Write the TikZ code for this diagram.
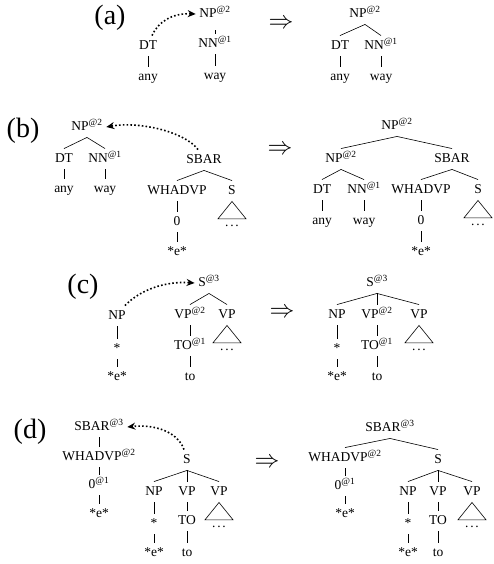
\documentclass[tikz,border=0pt]{standalone}
\usepackage{fontspec}
\setmainfont{Liberation Serif}
\usepackage{tikz}
\usetikzlibrary{arrows.meta}
\newcommand\treefont{\fontsize{13.5}{15}\selectfont}
\newcommand\panelfont{\fontsize{28}{30}\selectfont}
\newcommand\impfont{\fontsize{25}{28}\selectfont}
\newcommand\ann[1]{\textsuperscript{@#1}}
\newcommand\trdots{.\kern1.8pt.\kern1.8pt.}

\begin{document}
\begin{tikzpicture}[x=1pt,y=-1pt,
  t/.style={font=\treefont,inner sep=3.5pt,text height=10.5pt,text depth=3pt},
  dts/.style={font=\treefont,inner sep=1pt,text height=6pt,text depth=0pt},
  lbl/.style={font=\panelfont,inner sep=0pt},
  imp/.style={font=\impfont,inner sep=0pt},
  edge/.style={line width=0.6pt},
  mv/.style={line width=1.6pt,dash pattern=on 1.6pt off 2.2pt,-{Stealth[length=8pt,width=7pt]}}]
\useasboundingbox (0,0) rectangle (493,564);

% (a)
\node[lbl] (la) at (110,18) {(a)};
\node[t] (a1np) at (215,14) {NP\ann2};
\node[t] (a1nn) at (215,44) {NN\ann1};
\node[t] (a1way) at (215,76) {way};
\node[t] (a1dt) at (148,46) {DT};
\node[t] (a1any) at (148,77) {any};
\draw[edge] ([yshift=-6pt]a1np.south) -- (a1nn.north);
\draw[mv] ([xshift=4pt]a1dt.north) .. controls (158,22) and (172,13) .. (a1np.west);
\node[imp] (ia) at (281,24) {$\Rightarrow$};
\node[t] (a2np) at (365,14) {NP\ann2};
\node[t] (a2dt) at (340,46) {DT};
\node[t] (a2nn) at (381,46) {NN\ann1};
\node[t] (a2any) at (340,77) {any};
\node[t] (a2way) at (381,77) {way};

% (b)
\node[lbl] (lb) at (23,131) {(b)};
\node[t] (b1np) at (87,127) {NP\ann2};
\node[t] (b1dt) at (64,159) {DT};
\node[t] (b1nn) at (105,159) {NN\ann1};
\node[t] (b1any) at (64,189) {any};
\node[t] (b1way) at (105,189) {way};
\node[t] (b1sbar) at (204,160) {SBAR};
\node[t] (b1wh) at (177,191) {WHADVP};
\node[t] (b1s) at (232,191) {S};
\node[t] (b1zero) at (177,222) {0};
\node[t] (b1e) at (177,252) {*e*};
\node[dts] (b1sd) at (232,223) {\trdots};
\draw[mv] ([xshift=-6pt]b1sbar.north) .. controls (185,132) and (140,121) .. (b1np.east);
\node[imp] (ib) at (280,150) {$\Rightarrow$};
\node[t] (b2np) at (397,126) {NP\ann2};
\node[t] (b2npl) at (341,159) {NP\ann2};
\node[t] (b2sbar) at (452,159) {SBAR};
\node[t] (b2dt) at (322,190) {DT};
\node[t] (b2nn) at (364,190) {NN\ann1};
\node[t] (b2any) at (322,221) {any};
\node[t] (b2way) at (364,221) {way};
\node[t] (b2wh) at (421,190) {WHADVP};
\node[t] (b2s) at (478,190) {S};
\node[t] (b2zero) at (421,221) {0};
\node[t] (b2e) at (421,252) {*e*};
\node[dts] (b2sd) at (478,222) {\trdots};

% (c)
\node[lbl] (lc) at (83,287) {(c)};
\node[t] (c1np) at (117,316) {NP};
\node[t] (c1star) at (117,349) {*};
\node[t] (c1e) at (117,377) {*e*};
\node[t] (c1s) at (209,283) {S\ann3};
\node[t] (c1vp) at (190,315) {VP\ann2};
\node[t] (c1vpr) at (227,315) {VP};
\node[t] (c1to) at (190,346) {TO\ann1};
\node[t] (c1tto) at (190,377) {to};
\node[dts] (c1vprd) at (227,347) {\trdots};
\draw[mv] ([xshift=8pt]c1np.north) .. controls (140,290) and (165,281) .. (c1s.west);
\node[imp] (ic) at (282,313) {$\Rightarrow$};
\node[t] (c2s) at (377,283) {S\ann3};
\node[t] (c2np) at (337,315) {NP};
\node[t] (c2vp) at (377,315) {VP\ann2};
\node[t] (c2vpr) at (419,315) {VP};
\node[t] (c2star) at (337,349) {*};
\node[t] (c2to) at (377,346) {TO\ann1};
\node[t] (c2e) at (337,377) {*e*};
\node[t] (c2tto) at (377,377) {to};
\node[dts] (c2vprd) at (419,347) {\trdots};

% (d)
\node[lbl] (ld) at (30,432) {(d)};
\node[t] (d1sbar) at (99,427) {SBAR\ann3};
\node[t] (d1wh) at (99,457) {WHADVP\ann2};
\node[t] (d1zero) at (99,485) {0\ann1};
\node[t] (d1e) at (99,514) {*e*};
\node[t] (d1s) at (187,460) {S};
\node[t] (d1np) at (154,492) {NP};
\node[t] (d1vp) at (187,492) {VP};
\node[t] (d1vpr) at (219,492) {VP};
\node[t] (d1star) at (154,524) {*};
\node[t] (d1to) at (187,521) {TO};
\node[t] (d1ee) at (154,553) {*e*};
\node[t] (d1tto) at (187,553) {to};
\node[dts] (d1vprd) at (219,524) {\trdots};
\draw[mv] ([xshift=-3pt]d1s.north) .. controls (178,432) and (155,424) .. (d1sbar.east);
\node[imp] (id) at (267,463) {$\Rightarrow$};
\node[t] (d2sbar) at (390,428) {SBAR\ann3};
\node[t] (d2wh) at (345,458) {WHADVP\ann2};
\node[t] (d2zero) at (345,486) {0\ann1};
\node[t] (d2e) at (345,514) {*e*};
\node[t] (d2s) at (438,460) {S};
\node[t] (d2np) at (408,492) {NP};
\node[t] (d2vp) at (438,492) {VP};
\node[t] (d2vpr) at (472,492) {VP};
\node[t] (d2star) at (408,524) {*};
\node[t] (d2to) at (438,521) {TO};
\node[t] (d2ee) at (408,553) {*e*};
\node[t] (d2tto) at (438,553) {to};
\node[dts] (d2vprd) at (472,524) {\trdots};

\foreach \p/\c in {a1nn/a1way,a1dt/a1any,a2np/a2dt,a2np/a2nn,a2dt/a2any,a2nn/a2way,
  b1np/b1dt,b1np/b1nn,b1dt/b1any,b1nn/b1way,b1sbar/b1wh,b1sbar/b1s,b1wh/b1zero,b1zero/b1e,
  b2np/b2npl,b2np/b2sbar,b2npl/b2dt,b2npl/b2nn,b2dt/b2any,b2nn/b2way,b2sbar/b2wh,b2sbar/b2s,b2wh/b2zero,b2zero/b2e,
  c1np/c1star,c1star/c1e,c1s/c1vp,c1s/c1vpr,c1vp/c1to,c1to/c1tto,
  c2s/c2np,c2s/c2vp,c2s/c2vpr,c2np/c2star,c2star/c2e,c2vp/c2to,c2to/c2tto,
  d1sbar/d1wh,d1wh/d1zero,d1zero/d1e,d1s/d1np,d1s/d1vp,d1s/d1vpr,d1np/d1star,d1star/d1ee,d1vp/d1to,d1to/d1tto,
  d2sbar/d2wh,d2sbar/d2s,d2wh/d2zero,d2zero/d2e,d2s/d2np,d2s/d2vp,d2s/d2vpr,d2np/d2star,d2star/d2ee,d2vp/d2to,d2to/d2tto}
  \draw[edge] (\p.south) -- (\c.north);
\foreach \p in {b1s,b2s,c1vpr,c2vpr,d1vpr,d2vpr}
  \draw[edge] (\p.south) -- ([xshift=-14pt]\p d.north) -- ([xshift=14pt]\p d.north) -- cycle;
\end{tikzpicture}
\end{document}
